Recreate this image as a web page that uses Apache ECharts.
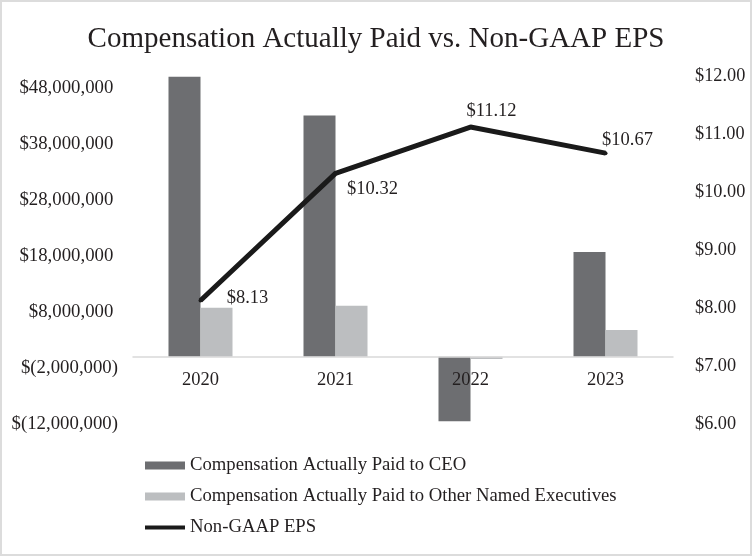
<!DOCTYPE html>
<html>
<head>
<meta charset="utf-8">
<script src="https://cdn.jsdelivr.net/npm/echarts@6/dist/echarts.min.js"></script>
<style>
  html, body { margin: 0; padding: 0; background: #fff; }
  #wrap { position: relative; width: 752px; height: 556px; }
  #chart { width: 752px; height: 556px; }
  #frame { position: absolute; left: 0; top: 0; right: 0; bottom: 0; border: 2px solid #dcdcdc; pointer-events: none; }
</style>
</head>
<body>
<div id="wrap"><div id="chart"></div><div id="frame"></div></div>
<script>
const years = ['2020', '2021', '2022', '2023'];
const ceoPaid = [50000000, 43100000, -11500000, 18700000];
const otherPaid = [8750000, 9100000, -400000, 4800000];
const eps = [8.13, 10.32, 11.12, 10.67];
const leftTicks = [-12000000, -2000000, 8000000, 18000000, 28000000, 38000000, 48000000];
const leftMin = -12000000, leftMax = 48000000;
const epsLabelOffsets = [[47, -2], [37, 16], [21, -16], [22, -13]];

const FONT = 'Liberation Serif';
const TXT = '#231f20';

const G0 = { left: 133, right: 79, top: 88, bottom: 132 };
const G1 = { left: 133, right: 79, top: 76, bottom: 132 };
const g0Height = 556 - G0.top - G0.bottom;
// place the category axis on the zero of the left value axis
const zeroOffset = -(0 - leftMin) / (leftMax - leftMin) * g0Height;

function money(v) {
  const s = Math.abs(v).toLocaleString('en-US');
  return v < 0 ? '$(' + s + ')' : '$' + s + ' ';
}

const chart = echarts.init(document.getElementById('chart'), null, { renderer: 'canvas' });
chart.setOption({
  animation: false,
  backgroundColor: '#ffffff',
  textStyle: { fontFamily: FONT, color: TXT },
  title: {
    text: 'Compensation Actually Paid vs. Non-GAAP EPS',
    left: 'center',
    top: 20,
    textStyle: { fontFamily: FONT, fontSize: 29, fontWeight: 'normal', color: TXT }
  },
  legend: {
    orient: 'vertical',
    left: 138,
    top: 451,
    itemWidth: 40,
    itemHeight: 8,
    itemGap: 12,
    textStyle: { fontFamily: FONT, fontSize: 18.7, color: TXT },
    data: [
      { name: 'Compensation Actually Paid to CEO', icon: 'rect' },
      { name: 'Compensation Actually Paid to Other Named Executives', icon: 'rect' },
      { name: 'Non-GAAP EPS', itemStyle: { opacity: 0 }, lineStyle: { width: 4, color: '#1a1a1a' } }
    ]
  },
  grid: [G0, G1],
  xAxis: [
    {
      type: 'category', gridIndex: 0, data: years, z: 10, offset: zeroOffset,
      axisLine: { onZero: false, lineStyle: { color: '#d9d9d9', width: 1.5 } },
      axisTick: { show: false },
      axisLabel: { fontFamily: FONT, fontSize: 18.5, color: TXT, margin: 14 }
    },
    { type: 'category', gridIndex: 1, data: years, show: false }
  ],
  yAxis: [
    {
      type: 'value', gridIndex: 0, min: leftMin, max: leftMax,
      splitLine: { show: false }, axisLine: { show: false }, axisTick: { show: false },
      axisLabel: { fontFamily: FONT, fontSize: 18.8, color: TXT, margin: 15, customValues: leftTicks, formatter: money }
    },
    {
      type: 'value', gridIndex: 1, position: 'right', min: 6, max: 12, interval: 1,
      splitLine: { show: false }, axisLine: { show: false }, axisTick: { show: false },
      axisLabel: { fontFamily: FONT, fontSize: 18.3, color: TXT, margin: 22, formatter: v => '$' + v.toFixed(2) }
    }
  ],
  series: [
    {
      name: 'Compensation Actually Paid to CEO', type: 'bar', xAxisIndex: 0, yAxisIndex: 0,
      barWidth: 32, barGap: '0%', clip: false, data: ceoPaid, itemStyle: { color: '#6d6e71' }
    },
    {
      name: 'Compensation Actually Paid to Other Named Executives', type: 'bar', xAxisIndex: 0, yAxisIndex: 0,
      barWidth: 32, barGap: '0%', clip: false, data: otherPaid, itemStyle: { color: '#bcbec0' }
    },
    {
      name: 'Non-GAAP EPS', type: 'line', xAxisIndex: 1, yAxisIndex: 1, z: 5,
      symbol: 'circle', symbolSize: 4,
      lineStyle: { color: '#1a1a1a', width: 5 },
      itemStyle: { color: '#1a1a1a' },
      data: eps.map((v, i) => ({
        value: v,
        label: { show: true, position: 'inside', offset: epsLabelOffsets[i],
                 formatter: p => '$' + p.value.toFixed(2), fontFamily: FONT, fontSize: 18.5, color: TXT }
      }))
    }
  ]
});
</script>
</body>
</html>
